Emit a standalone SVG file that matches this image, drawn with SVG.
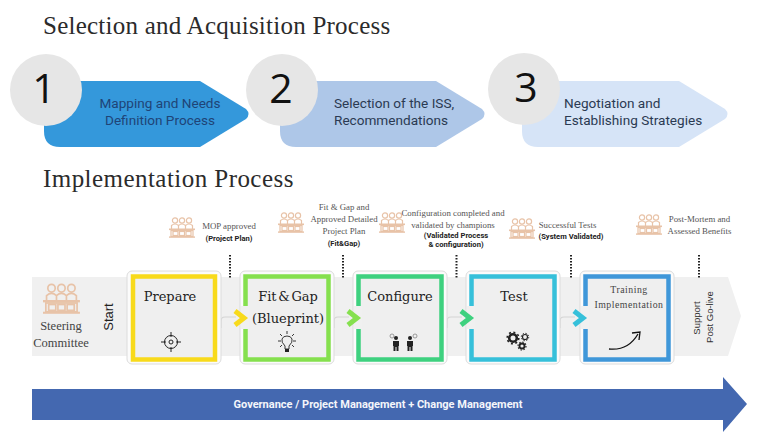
<svg xmlns="http://www.w3.org/2000/svg" xmlns:xlink="http://www.w3.org/1999/xlink" width="768" height="432" viewBox="0 0 768 432">
<style>
.title{font-family:"Liberation Serif",serif;font-size:25px;fill:#2b2b2b;letter-spacing:.45px}
.num{font-family:"Open Sans","Noto Sans",sans-serif;font-size:41px;fill:#111;text-anchor:middle}
.step{font-family:Roboto,"Noto Sans",sans-serif;font-size:13.600px}
.phase{font-family:"DejaVu Serif",serif;font-size:13px;fill:#222;text-anchor:middle}
.small{font-family:"Liberation Serif",serif;font-size:8.800px;fill:#555;text-anchor:middle}
.bold{font-family:Roboto,"Noto Sans",sans-serif;font-size:7.600px;fill:#222;font-weight:bold;text-anchor:middle}
.side{font-family:"Liberation Sans",sans-serif;fill:#333;text-anchor:middle}
.frame{fill:#fbfbfb;stroke:#dcdcdc;stroke-width:1}
.box{fill:#efefef;stroke-width:4.500}
.gap{stroke:none}
.dots{stroke:#222;stroke-width:2;stroke-dasharray:1.600 1.400;fill:none}
.link{fill:none;stroke:#d4d4d4;stroke-width:1.200}
.chev{fill:none;stroke-width:5;stroke-linejoin:miter}
.peach{fill:#e8c3a8}
.ink{fill:#222}
</style>
<defs>
<g id="crowd">
<g fill="none" stroke="#e8c3a8" stroke-width="1.200">
<circle cx="6" cy="3.500" r="2.600"/><circle cx="13" cy="3.500" r="2.600"/><circle cx="20" cy="3.500" r="2.600"/>
<path d="M2.500 12V8.500Q6 5.500 9.500 8.500V12M9.500 12V8.500Q13 5.500 16.500 8.500V12M16.500 12V8.500Q20 5.500 23.500 8.500V12"/>
<rect x="2" y="13.500" width="22" height="6"/>
<rect x="4" y="14.500" width="5" height="4"/><rect x="10.500" y="14.500" width="5" height="4"/><rect x="17" y="14.500" width="5" height="4"/>
</g>
<rect class="peach" x="0" y="11.500" width="26" height="1.600"/>
<rect class="peach" x="0" y="19.400" width="26" height="1.400"/>
</g>
</defs>

<text class="title" style="letter-spacing:.24px" x="43" y="34">Selection and Acquisition Process</text>
<text class="title" x="43" y="187">Implementation Process</text>

<g id="step-1">
<path d="M44 81H200L246 109Q251 114 246 119L200 147H60Q44 147 44 131Z" fill="#3498db"/>
<circle cx="46" cy="90" r="36" fill="#e6e6e6"/>
<text class="num" x="44" y="103">1</text>
<text class="step" fill="#1f4477" text-anchor="middle" x="160" y="108">Mapping and Needs</text>
<text class="step" fill="#1f4477" text-anchor="middle" x="160" y="125">Definition Process</text>
</g>
<g id="step-2">
<path d="M280 81H436L482 109Q487 114 482 119L436 147H296Q280 147 280 131Z" fill="#aec7e8"/>
<circle cx="282" cy="90" r="36" fill="#e6e6e6"/>
<text class="num" x="281" y="103">2</text>
<text class="step" fill="#2b3a52" x="334" y="108">Selection of the ISS,</text>
<text class="step" fill="#2b3a52" x="334" y="125">Recommendations</text>
</g>
<g id="step-3">
<path d="M522 81H679L725 109Q730 114 725 119L679 147H538Q522 147 522 131Z" fill="#d6e4f7"/>
<circle cx="524" cy="89" r="36" fill="#e6e6e6"/>
<text class="num" x="526" y="102">3</text>
<text class="step" fill="#2b3a52" x="564" y="108">Negotiation and</text>
<text class="step" fill="#2b3a52" x="564" y="125">Establishing Strategies</text>
</g>

<g id="band">
<path d="M32 277H728L741 316L728 356H32Z" fill="#f0f0f0"/>
</g>

<g id="connectors">
<path class="dots" d="M230 255V278M343 255V278M456.500 255V278M571 255V278M699 255V278"/>
<path class="link" d="M221 328V321Q221 317 225 317H236"/>
<path class="link" d="M334 328V321Q334 317 338 317H349"/>
<path class="link" d="M447 328V321Q447 317 451 317H462"/>
<path class="link" d="M560 328V321Q560 317 564 317H575"/>
</g>

<g id="steering">
<use xlink:href="#crowd" href="#crowd" transform="translate(43 283) scale(1.420 1.480)"/>
<text class="small" style="font-size:12.500px;fill:#444" x="61" y="330">Steering</text>
<text class="small" style="font-size:12.500px;fill:#444" x="61" y="347">Committee</text>
</g>
<g id="start"><text class="side" style="font-size:13px;fill:#222" transform="translate(113 317) rotate(-90)">Start</text></g>

<g id="prepare">
<rect class="frame" x="127" y="271" width="94" height="93" rx="5"/>
<rect class="box" x="133" y="276.500" width="82" height="83" stroke="#f8da1b"/>
<text class="phase" x="170" y="301">Prepare</text>
<g fill="none" stroke="#222" stroke-width="1">
<circle cx="171" cy="342" r="6.500"/><circle cx="171" cy="342" r="2"/>
<path d="M171 332V337M171 347V352M161 342H166M176 342H181"/>
</g>
</g>

<g id="fit-gap">
<rect class="frame" x="240" y="271" width="94" height="93" rx="5"/>
<rect class="box" x="245.500" y="276.500" width="83" height="83" stroke="#85e04e"/>
<rect class="gap" x="241" y="306" width="8" height="23" fill="#f0f0f0"/>
<path class="chev" d="M235 311L244 318L235 325" stroke="#f8da1b"/>
<text class="phase" style="word-spacing:-2.500px" x="288" y="301">Fit &amp; Gap</text>
<text class="phase" x="288" y="323">(Blueprint)</text>
<g fill="none" stroke="#222" stroke-width=".9">
<path d="M285 349V346Q281 342 282 339Q283 336 287 336Q291 336 292 339Q293 342 289 346V349Z"/>
<path d="M287 331V334M278 341H281M293 341H296M280 334L282 336M294 334L292 336M280 347L282 345M294 347L292 345"/>
</g>
<rect class="ink" x="285" y="349" width="4" height="3"/>
</g>

<g id="configure">
<rect class="frame" x="353" y="271" width="94" height="93" rx="5"/>
<rect class="box" x="358.500" y="276.500" width="83" height="83" stroke="#3ed17f"/>
<rect class="gap" x="354" y="306" width="8" height="23" fill="#f0f0f0"/>
<path class="chev" d="M348 311L357 318L348 325" stroke="#85e04e"/>
<text class="phase" x="400" y="301">Configure</text>
<g class="ink">
<circle cx="396" cy="338" r="2"/><path d="M393 341H399V346H398.500V351H396.500V347H395.500V351H393.500V346H393Z"/>
<circle cx="410" cy="338" r="2"/><path d="M407 341H413V346H412.500V351H410.500V347H409.500V351H407.500V346H407Z"/>
</g>
<g fill="none" stroke="#777" stroke-width=".7"><circle cx="392" cy="336" r="2"/><circle cx="415" cy="336" r="2"/></g>
</g>

<g id="test">
<rect class="frame" x="466" y="271" width="94" height="93" rx="5"/>
<rect class="box" x="471.500" y="276.500" width="83" height="83" stroke="#36c0da"/>
<rect class="gap" x="467" y="306" width="8" height="23" fill="#f0f0f0"/>
<path class="chev" d="M461 311L470 318L461 325" stroke="#3ed17f"/>
<text class="phase" x="514" y="301">Test</text>
<g fill="none" stroke="#222">
<circle cx="513" cy="338" r="3.800" stroke-width="2.600"/><circle cx="513" cy="338" r="5.800" stroke-width="1.600" stroke-dasharray="2 2.500"/>
<circle cx="522" cy="346" r="2.500" stroke-width="1.800"/><circle cx="522" cy="346" r="4" stroke-width="1.200" stroke-dasharray="1.500 1.600"/>
<circle cx="525" cy="337" r="2.500" stroke-width="1.200"/><circle cx="525" cy="337" r="3.700" stroke-width="1" stroke-dasharray="1.400 1.500"/>
</g>
</g>

<g id="training">
<rect class="frame" x="580" y="271" width="94" height="93" rx="5"/>
<rect class="box" x="585.500" y="276.500" width="83" height="83" stroke="#3f97d9"/>
<rect class="gap" x="581" y="306" width="8" height="23" fill="#f0f0f0"/>
<path class="chev" d="M574 311L583 318L574 325" stroke="#36c0da"/>
<text class="small" style="font-size:9.800px;fill:#444;letter-spacing:.5px" x="629" y="293">Training</text>
<text class="small" style="font-size:9.800px;fill:#444;letter-spacing:.5px" x="629" y="308">Implementation</text>
<path d="M609 349Q628 351 638 334" fill="none" stroke="#111" stroke-width="1.300"/>
<path d="M632 333L640 332L639 340" fill="none" stroke="#111" stroke-width="1.300"/>
</g>

<g id="post"><text class="side" style="font-size:9.500px" transform="translate(700 318) rotate(-90)">Support</text>
<text class="side" style="font-size:9.500px" transform="translate(712.500 317) rotate(-90)">Post Go-live</text></g>

<g id="note-1">
<use xlink:href="#crowd" href="#crowd" x="169" y="217"/>
<text class="small" x="229" y="229">MOP approved</text>
<text class="bold" x="229" y="241">(Project Plan)</text>
</g>
<g id="note-2">
<use xlink:href="#crowd" href="#crowd" x="278" y="212"/>
<text class="small" x="344" y="210">Fit &amp; Gap and</text>
<text class="small" x="344" y="222">Approved Detailed</text>
<text class="small" x="344" y="234">Project Plan</text>
<text class="bold" x="344" y="246">(Fit&amp;Gap)</text>
</g>
<g id="note-3">
<use xlink:href="#crowd" href="#crowd" x="379" y="212"/>
<text class="small" x="453" y="216">Configuration completed and</text>
<text class="small" x="453" y="228">validated by champions</text>
<text class="bold" x="456" y="238">(Validated Process</text>
<text class="bold" x="456" y="247">&amp; configuration)</text>
</g>
<g id="note-4">
<use xlink:href="#crowd" href="#crowd" x="509" y="218"/>
<text class="small" x="567.500" y="228">Successful Tests</text>
<text class="bold" x="571" y="239">(System Validated)</text>
</g>
<g id="note-5">
<use xlink:href="#crowd" href="#crowd" x="636" y="214"/>
<text class="small" x="699.500" y="222">Post-Mortem and</text>
<text class="small" x="699.500" y="234">Assessed Benefits</text>
</g>

<g id="governance">
<path d="M32 389H723V377L747 404L723 432V420H32Z" fill="#4468b0"/>
<text x="378" y="408" text-anchor="middle" fill="#f4f6fb" font-family="Roboto,'Noto Sans',sans-serif" font-weight="bold" font-size="11px" textLength="289" lengthAdjust="spacingAndGlyphs">Governance / Project Management + Change Management</text>
</g>
</svg>
